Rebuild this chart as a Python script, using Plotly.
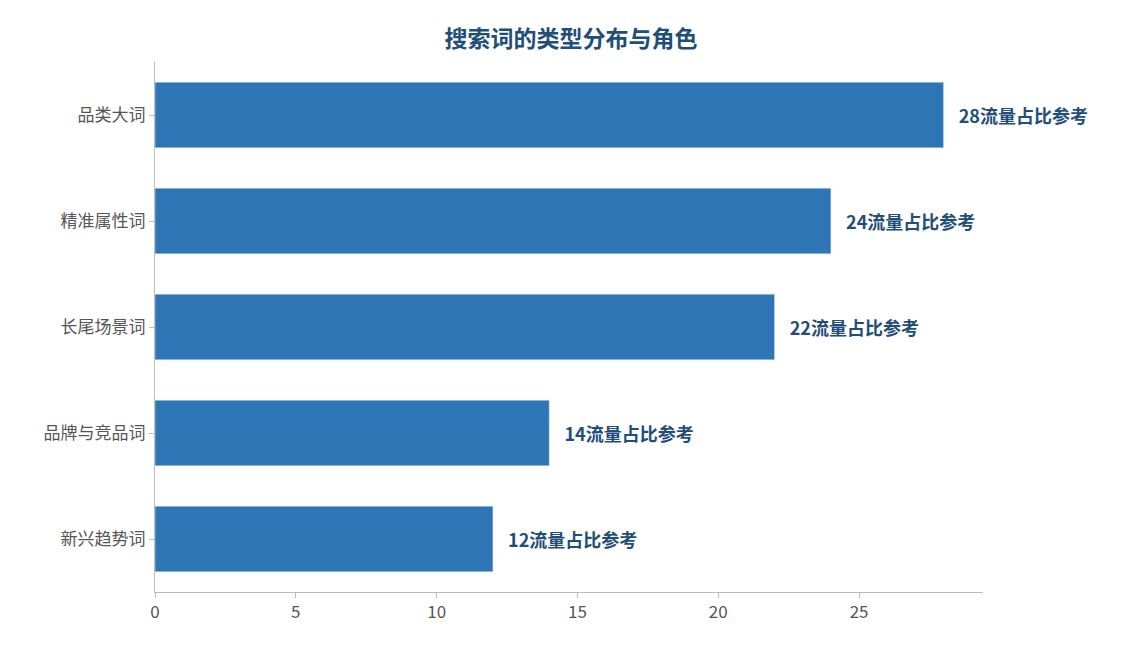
import plotly.graph_objects as go

categories = ['品类大词', '精准属性词', '长尾场景词', '品牌与竞品词', '新兴趋势词']
values = [28, 24, 22, 14, 12]
labels = [f'{v}流量占比参考' for v in values]

font_family = 'Noto Sans CJK SC'

fig = go.Figure()
fig.add_trace(go.Bar(
    x=values,
    y=categories,
    orientation='h',
    marker_color='#2e75b6',
    width=0.62,
    text=labels,
    textposition='outside',
    textfont=dict(color='#1f4e79', size=18, family=font_family),
    texttemplate='   <b>%{text}</b>',
    cliponaxis=False,
    hoverinfo='none',
))

fig.update_layout(
    width=1126, height=645,
    title=dict(text='<b>搜索词的类型分布与角色</b>', x=0.5, xanchor='center', y=0.965,
               font=dict(size=23, color='#1f4e79', family=font_family)),
    margin=dict(l=147, r=151, t=54, b=61),
    plot_bgcolor='white', paper_bgcolor='white',
    showlegend=False,
    font=dict(family=font_family, color='#555555'),
    xaxis=dict(range=[0, 29.4], showgrid=False, zeroline=False, showline=True,
               linecolor='#bbbbbb', ticks='outside', tickcolor='#bbbbbb',
               tickvals=[0, 5, 10, 15, 20, 25], tickfont=dict(size=17)),
    yaxis=dict(categoryorder='array', categoryarray=categories[::-1],
               showgrid=False, showline=True, linecolor='#bbbbbb',
               ticks='outside', tickcolor='#bbbbbb', tickfont=dict(size=17)),
)

fig.write_html('out.html')
